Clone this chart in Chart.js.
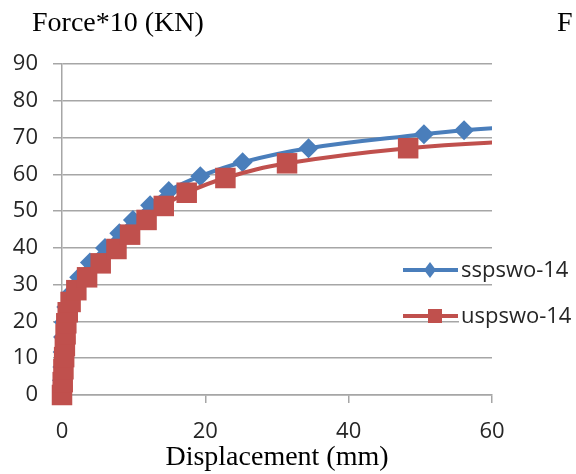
<!DOCTYPE html>
<html>
<head>
<meta charset="utf-8">
<script src="https://cdn.jsdelivr.net/npm/chart.js@4/dist/chart.umd.min.js"></script>
<style>
  html, body { margin: 0; padding: 0; background: #fff; }
  #wrap { position: relative; width: 576px; height: 474px; overflow: hidden; }
  #c { position: absolute; left: 0; top: 0; }
  .ttl { position: absolute; font-family: "Liberation Serif", "Times New Roman", serif; font-size: 28px; color: #000; line-height: 1; white-space: nowrap; }
</style>
</head>
<body>
<div id="wrap">
  <canvas id="c" width="576" height="474"></canvas>
  <div class="ttl" style="left:32px; top:8px;">Force*10 (KN)</div>
  <div class="ttl" style="left:557px; top:8px;">F</div>
</div>
<script>
// ---- data ----
const seriesNames = ["sspswo-14", "uspswo-14"];
const ssDisp  = [0, 0, 0.05, 0.1, 0.15, 0.25, 0.6, 1.3, 2.4, 3.9, 6.0, 8.0, 9.9, 12.3, 14.9, 19.3, 25.2, 34.4, 50.5, 56.1, 66];
const ssForce = [0, 4, 7.6, 11.7, 15.8, 19.8, 23.9, 27.8, 32, 36, 40, 44, 47.6, 51.6, 55.5, 59.5, 63.3, 67.1, 70.9, 72.0, 73.3];
const usDisp  = [0, 0.1, 0.2, 0.3, 0.4, 0.5, 0.6, 0.8, 1.2, 2.0, 3.5, 5.4, 7.6, 9.5, 11.8, 14.2, 17.4, 22.8, 31.4, 48.3, 66];
const usForce = [0, 3.5, 7, 10.3, 13.3, 16.5, 19.5, 22.5, 25.3, 28.5, 32, 35.8, 39.7, 43.6, 47.6, 51.4, 55, 59, 63, 67.1, 69.3];
const yTicks = [0, 10, 20, 30, 40, 50, 60, 70, 80, 90];
const xTicks = [0, 20, 40, 60];

const BLUE = "#4a7ebb";
const RED = "#c0504d";
const TICKFONT = { family: "'Open Sans', 'Noto Sans', sans-serif", size: 22 };

function pts(xs, ys) { return xs.map((x, i) => ({ x: x, y: ys[i] })); }
const xMax = xTicks[xTicks.length - 1];

const legendPlugin = {
  id: "customLegend",
  afterDraw(chart) {
    const ctx = chart.ctx;
    const rows = [
      { ds: chart.data.datasets[0], y: 270, shape: "diamond" },
      { ds: chart.data.datasets[1], y: 316, shape: "square" }
    ];
    ctx.save();
    rows.forEach(r => {
      ctx.fillStyle = "#fff";
      ctx.fillRect(459, r.y - 12, 117, 24);
      ctx.strokeStyle = r.ds.borderColor;
      ctx.lineWidth = 4;
      ctx.beginPath();
      ctx.moveTo(403, r.y);
      ctx.lineTo(458, r.y);
      ctx.stroke();
      ctx.fillStyle = r.ds.backgroundColor;
      ctx.beginPath();
      if (r.shape === "diamond") {
        ctx.moveTo(430, r.y - 8);
        ctx.lineTo(436, r.y);
        ctx.lineTo(430, r.y + 8);
        ctx.lineTo(424, r.y);
        ctx.closePath();
      } else {
        ctx.rect(428, r.y - 7, 14, 14);
      }
      ctx.fill();
      ctx.fillStyle = "#262626";
      ctx.font = "22px 'Open Sans', sans-serif";
      ctx.textBaseline = "middle";
      ctx.textAlign = "left";
      ctx.fillText(r.ds.label, 461, r.y + 1);
    });
    ctx.restore();
  }
};

new Chart(document.getElementById("c"), {
  type: "line",
  data: {
    datasets: [
      {
        label: seriesNames[0],
        data: pts(ssDisp, ssForce),
        borderColor: BLUE,
        backgroundColor: BLUE,
        borderWidth: 4,
        tension: 0.4,
        pointStyle: "rectRot",
        pointRadius: c => (c.raw && c.raw.x > xMax) ? 0 : 10,
        pointBorderWidth: 0,
        pointBackgroundColor: BLUE,
        order: 1,
        clip: { left: 15, top: 5, right: 0, bottom: 15 }
      },
      {
        label: seriesNames[1],
        data: pts(usDisp, usForce),
        borderColor: RED,
        backgroundColor: RED,
        borderWidth: 4,
        tension: 0.4,
        pointStyle: "rect",
        pointRadius: c => (c.raw && c.raw.x > xMax) ? 0 : 14.5,
        pointBorderWidth: 0,
        pointBackgroundColor: RED,
        order: 0,
        clip: { left: 15, top: 5, right: 0, bottom: 15 }
      }
    ]
  },
  options: {
    responsive: false,
    animation: false,
    events: [],
    layout: { padding: { left: 0, top: 64, right: 84, bottom: 0 } },
    plugins: { legend: { display: false }, tooltip: { enabled: false } },
    scales: {
      x: {
        type: "linear",
        min: 0, max: xMax,
        afterBuildTicks: s => { s.ticks = xTicks.map(v => ({ value: v })); },
        afterFit: s => { s.height = 79; },
        grid: { drawOnChartArea: false, drawTicks: true, tickLength: 8, color: "#a6a6a6", lineWidth: 1.5 },
        border: { color: "#a6a6a6", width: 1.5 },
        ticks: { font: TICKFONT, color: "#262626", padding: 16, maxRotation: 0 },
        title: { display: true, text: "Displacement (mm)", color: "#000",
                 font: { family: "'Liberation Serif', 'Times New Roman', serif", size: 28, lineHeight: 1 },
                 padding: { top: 0, bottom: 2 } }
      },
      y: {
        type: "linear",
        min: 0, max: yTicks[yTicks.length - 1],
        afterBuildTicks: s => { s.ticks = yTicks.map(v => ({ value: v })); },
        afterFit: s => { s.width = 62; },
        grid: { color: "#a6a6a6", lineWidth: 1.5, tickLength: 9 },
        border: { color: "#a6a6a6", width: 1.5 },
        ticks: { font: TICKFONT, color: "#262626", padding: 15 }
      }
    }
  },
  plugins: [legendPlugin]
});
</script>
</body>
</html>
